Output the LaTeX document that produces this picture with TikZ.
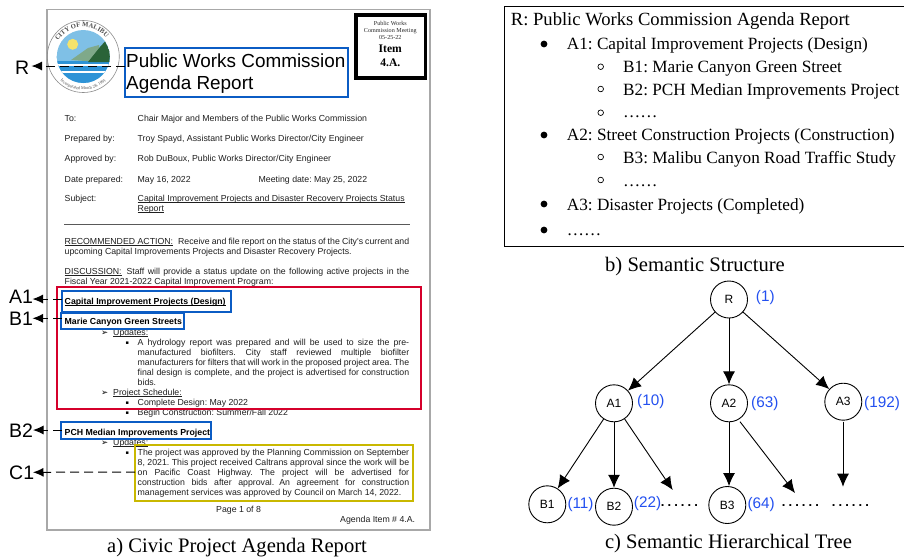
\documentclass[tikz,border=0pt]{standalone}
\usepackage{fontspec}
\setmainfont{Liberation Serif}
\newfontfamily\arial{Liberation Sans}
\newfontfamily\dejavu{DejaVu Sans}
\usetikzlibrary{arrows.meta,decorations.text}
\definecolor{boxblue}{HTML}{0B5CC4}
\definecolor{boxred}{HTML}{D5002B}
\definecolor{boxyel}{HTML}{C9B800}
\definecolor{numblue}{HTML}{2350F0}
\definecolor{pageg}{HTML}{A8A8A8}
\definecolor{sky}{HTML}{7FC0E6}
\definecolor{sea}{HTML}{2E93D6}
\definecolor{sunc}{HTML}{F4E36B}
\definecolor{hilld}{HTML}{2A6338}
\definecolor{hilll}{HTML}{7FA98A}
\newcommand{\fs}[1]{\fontsize{#1}{#1}\selectfont\frenchspacing}
\newsavebox{\ulb}
\newcommand{\ulin}[1]{\sbox{\ulb}{#1}\rlap{\rule[-1.3pt]{\wd\ulb}{0.45pt}}\usebox{\ulb}}
\newcommand{\dotrow}{\makebox[37pt][s]{.\hfil.\hfil.\hfil.\hfil.\hfil.}}
\tikzset{
 x=1pt,y=-1pt,
 doc/.style={font=\arial\fs{8.75},inner sep=0pt,anchor=base west,text=black!88},
 docb/.style={doc,font=\arial\bfseries\fs{8.75},text=black},
 sym/.style={font=\dejavu\fs{8.5},inner sep=0pt,anchor=base west,text=black},
 sqb/.style={font=\dejavu\fs{5},inner sep=0pt,anchor=base west,text=black},
 head/.style={font=\arial\fs{18.9},inner sep=0pt,anchor=base west},
 lab/.style={font=\arial\fs{19.5},inner sep=0pt,anchor=base west},
 capt/.style={font=\fs{20.6},inner sep=0pt,anchor=base},
 sem/.style={font=\fs{17.2},inner sep=0pt,anchor=base west},
 semr/.style={font=\fs{18.6},inner sep=0pt,anchor=base west},
 small/.style={font=\fs{6.1},inner sep=0pt,anchor=base,text=black!85},
 itm/.style={font=\bfseries\fs{11.6},inner sep=0pt,anchor=base},
 bluebox/.style={draw=boxblue,line width=2pt},
 dashln/.style={draw=black,line width=1pt,dash pattern=on 9pt off 5pt},
 tipd/.style={-{Latex[length=10.5pt,width=9pt]}},
 tn/.style={circle,draw,line width=0.9pt,minimum size=37pt,inner sep=0pt,font=\arial\fs{12},fill=white},
 num/.style={font=\arial\fs{15.3},text=numblue,inner sep=0pt,anchor=base west},
 dotsn/.style={font=\arial\bfseries\fs{13},inner sep=0pt,anchor=base west},
 edgeln/.style={line width=0.9pt,-{Latex[length=13pt,width=12pt]}},
}
\begin{document}
\begin{tikzpicture}
\useasboundingbox (0,0) rectangle (904,558);
\fill[white] (0,0) rectangle (904,558);
% page
\draw[pageg,line width=1.5pt] (47,9.5) rectangle (430,530);
% logo
\draw[black!45,line width=0.6pt] (83.3,56.5) circle (36);
\begin{scope}
\clip (83.3,56.5) circle (26.5);
\fill[sky] (50,20) rectangle (120,90);
\fill[sunc] (72.7,44.3) circle (5.5);
\fill[sea] (50,56) rectangle (120,90);
\fill[sky] (50,56) rectangle (120,61);
\fill[white] (50,64) rectangle (120,65.5);
\fill[white] (50,71) rectangle (120,72.5);
\fill[hilll] (71,60) -- (88,48) -- (99,45) -- (100,62) -- cycle;
\fill[hilld] (88,62) -- (100,47) -- (105,41.5) -- (112,55) -- (112,62) -- cycle;
\end{scope}
\path[decorate,decoration={text along path,text align=center,text={|\bfseries\fs{6.6}\color{black!70}|CITY OF MALIBU}}]
  ({83.3+29.6*cos(170)},{56.5-29.6*sin(170)}) arc[start angle=170,end angle=18,radius=29.6pt];
\path[decorate,decoration={text along path,text align=center,text={|\fs{4.3}\color{black!70}|Incorporated March 28, 1991}}]
  ({83.3+33.5*cos(208)},{56.5-33.5*sin(208)}) arc[start angle=208,end angle=332,radius=33.5pt];
% item box
\draw[black,line width=3.2pt] (356,15) rectangle (425.5,78);
\node[small] (it1) at (390.3,25.7) {Public Works};
\node[small] (it2) at (390.3,32.7) {Commission Meeting};
\node[small] (it3) at (390.3,39.7) {05-25-22};
\node[itm] (it4) at (390.3,52.3) {Item};
\node[itm] (it5) at (390.3,66) {4.A.};
% title
\node[head] (t1) at (126,67) {Public Works Commission};
\node[head] (t2) at (126,89) {Agenda Report};
\draw[bluebox] (125,47.7) rectangle (348,96.7);
% memo rows
\node[doc] (to) at (64.5,121.5) {To:};
\node[doc] (to2) at (137.5,121.5) {Chair Major and Members of the Public Works Commission};
\node[doc] (pr) at (64.5,141.5) {Prepared by:};
\node[doc] (pr2) at (137.5,141.5) {Troy Spayd, Assistant Public Works Director/City Engineer};
\node[doc] (ap) at (64.5,161.5) {Approved by:};
\node[doc] (ap2) at (137.5,161.5) {Rob DuBoux, Public Works Director/City Engineer};
\node[doc] (da) at (64.5,182) {Date prepared:};
\node[doc] (da2) at (137.5,182) {May 16, 2022};
\node[doc] (da3) at (258.5,182) {Meeting date: May 25, 2022};
\node[doc] (su) at (64.5,201.5) {Subject:};
\node[doc] (su2) at (137.5,201.5) {\ulin{Capital Improvement Projects and Disaster Recovery Projects Status}};
\node[doc] (su3) at (137.5,211.5) {\ulin{Report}};
\draw[black!65,line width=0.8pt] (64,224.7) -- (410,224.7);
% recommended
\node[doc] (re1) at (64.5,244) {\makebox[344.5pt][s]{\ulin{RECOMMENDED ACTION:}\hspace{5pt}Receive and file report on the status of the City's current and}};
\node[doc] (re2) at (64.5,254) {upcoming Capital Improvements Projects and Disaster Recovery Projects.};
\node[doc] (di1) at (64.5,274) {\makebox[344.5pt][s]{\ulin{DISCUSSION:}\hspace{5pt}Staff will provide a status update on the following active projects in the}};
\node[doc] (di2) at (64.5,284) {Fiscal Year 2021-2022 Capital Improvement Program:};
% headings
\node[docb] (h1) at (64.5,304.5) {\ulin{Capital Improvement Projects (Design)}};
\node[docb] (h2) at (64.5,324.5) {Marie Canyon Green Streets};
\node[sym] (u1a) at (101,335) {➢};
\node[doc] (u1) at (113,335) {\ulin{Updates:}};
\node[sqb] (b1) at (125.5,344) {▪};
\foreach \n/\yy/\tx in {
 l1/345/{\makebox[271.5pt][s]{A hydrology report was prepared and will be used to size the pre-}},
 l2/355/{\makebox[271.5pt][s]{manufactured biofilters. City staff reviewed multiple biofilter}},
 l3/365/{\makebox[271.5pt][s]{manufacturers for filters that will work in the proposed project area. The}},
 l4/375/{\makebox[271.5pt][s]{final design is complete, and the project is advertised for construction}},
 l5/385/{bids.}}{
  \node[doc] (\n) at (137.5,\yy) {\tx};}
\node[sym] (u2a) at (101,395) {➢};
\node[doc] (u2) at (113,395) {\ulin{Project Schedule:}};
\node[sqb] (b2) at (125.5,404) {▪};
\node[doc] (s1x) at (137.5,405) {Complete Design: May 2022};
\node[sqb] (b3) at (125.5,414) {▪};
\node[doc] (s2x) at (137.5,415) {Begin Construction: Summer/Fall 2022};
\node[docb] (h3) at (64.5,435.5) {PCH Median Improvements Project};
\node[sym] (u3a) at (101,445.5) {➢};
\node[doc] (u3) at (113,445.5) {\ulin{Updates:}};
\node[sqb] (b4) at (125.5,454.5) {▪};
\foreach \n/\yy/\tx in {
 m1/455.5/{\makebox[271.5pt][s]{The project was approved by the Planning Commission on September}},
 m2/465.5/{\makebox[271.5pt][s]{8, 2021. This project received Caltrans approval since the work will be}},
 m3/475.5/{\makebox[271.5pt][s]{on Pacific Coast Highway. The project will be advertised for}},
 m4/485.5/{\makebox[271.5pt][s]{construction bids after approval.\hspace{5pt}An agreement for construction}},
 m5/495.5/{management services was approved by Council on March 14, 2022.}}{
  \node[doc] (\n) at (137.5,\yy) {\tx};}
\node[doc] (pg) at (216,512.5) {Page 1 of 8};
\node[doc] (ag) at (340,522.5) {Agenda Item \# 4.A.};
% boxes
\draw[boxred,line width=2pt] (56.7,286.7) rectangle (420.7,409);
\draw[bluebox] (61.7,290.7) rectangle (231,312);
\draw[bluebox] (61.2,313.3) rectangle (183.7,329.3);
\draw[bluebox] (61.2,422.3) rectangle (210.7,439);
\draw[draw=boxyel,line width=2pt] (135,444.7) rectangle (413.3,500.7);
% side labels
\node[lab] (R) at (15,74) {R};
\node[lab] (A1) at (9,303.5) {A1};
\node[lab] (B1) at (9,325) {B1};
\node[lab] (B2) at (9,437) {B2};
\node[lab] (C1) at (9,479) {C1};
\coordinate (rt) at (125,66);
\coordinate (a1t) at (61.5,299);
\coordinate (b1t) at (61.5,318.3);
\coordinate (b2t) at (61.5,430);
\coordinate (c1t) at (135,472);
\coordinate (rh) at (31.5,66);
\coordinate (a1h) at (32.5,299);
\coordinate (b1h) at (32.5,318.3);
\coordinate (b2h) at (33,430);
\coordinate (c1h) at (33,472.3);
\draw[dashln,tipd] (rt) -- (rh);
\draw[dashln,tipd] (a1t) -- (a1h);
\draw[dashln,tipd] (b1t) -- (b1h);
\draw[dashln,tipd] (b2t) -- (b2h);
\draw[dashln,tipd] (c1t) -- (c1h);
\node[capt] (capa) at (237,552) {a) Civic Project Agenda Report};
% semantic structure
\draw[black,line width=0.9pt] (906,6) -- (504,6) -- (504,246) -- (906,246);
\node[semr] (s0) at (510.7,25) {R: Public Works Commission Agenda Report};
\foreach \n/\xx/\yy/\tx in {
 s1/566.7/49/{A1: Capital Improvement Projects (Design)},
 s2/623/72/{B1: Marie Canyon Green Street},
 s3/623/95/{B2: PCH Median Improvements Project},
 s4/623/117/{……},
 s5/566.7/140/{A2: Street Construction Projects (Construction)},
 s6/623/163/{B3: Malibu Canyon Road Traffic Study},
 s7/623/186/{……},
 s8/566.7/210/{A3: Disaster Projects (Completed)},
 s9/566.7/235/{……}}{
  \node[sem] (\n) at (\xx,\yy) {\tx};}
\foreach \yy in {44,135,204,230}{\fill (544,\yy) circle (3.4);}
\foreach \yy in {66.7,89,112.7,157,180}{\draw[line width=0.7pt] (600.7,\yy) circle (2.8);}
\node[capt] (capb) at (695,271.5) {b) Semantic Structure};
% tree
\node[tn] (nR) at (729,299.5) {R};
\node[tn] (nA1) at (614,403.3) {A1};
\node[tn] (nA2) at (729,403.3) {A2};
\node[tn] (nA3) at (843.3,401.7) {A3};
\node[tn] (nB1) at (547.3,504.3) {B1};
\node[tn] (nB2) at (614,506.7) {B2};
\node[tn] (nB3) at (727.3,505) {B3};
\coordinate (e1) at (672.7,490);
\coordinate (e2) at (795,493);
\coordinate (e3) at (843,486.7);
\coordinate (a3s) at (843,421.7);
\coordinate (a2s) at (740,421.7);
\draw[edgeln] (nR) -- (nA1);
\draw[edgeln] (nR) -- (nA2);
\draw[edgeln] (nR) -- (nA3);
\draw[edgeln] (nA1) -- (nB1);
\draw[edgeln] (nA1) -- (nB2);
\draw[edgeln] (nA1) -- (e1);
\draw[edgeln] (nA2.south) -- (nA2.south |- nB3.north);
\draw[edgeln] (a2s) -- (e2);
\draw[edgeln] (a3s) -- (e3);
\node[num] (c1) at (755.7,301) {(1)};
\node[num] (c2) at (637,405) {(10)};
\node[num] (c3) at (751,407) {(63)};
\node[num] (c4) at (864,407) {(192)};
\node[num] (c5) at (567.3,508) {(11)};
\node[num] (c6) at (633.7,507.7) {(22)};
\node[num] (c7) at (747.3,508) {(64)};
\node[dotsn] (d1) at (660.7,506) {\dotrow};
\node[dotsn] (d2) at (781.7,506) {\dotrow};
\node[dotsn] (d3) at (831.7,506) {\dotrow};
\node[capt] (capc) at (728.5,548) {c) Semantic Hierarchical Tree};
\end{tikzpicture}
\end{document}
